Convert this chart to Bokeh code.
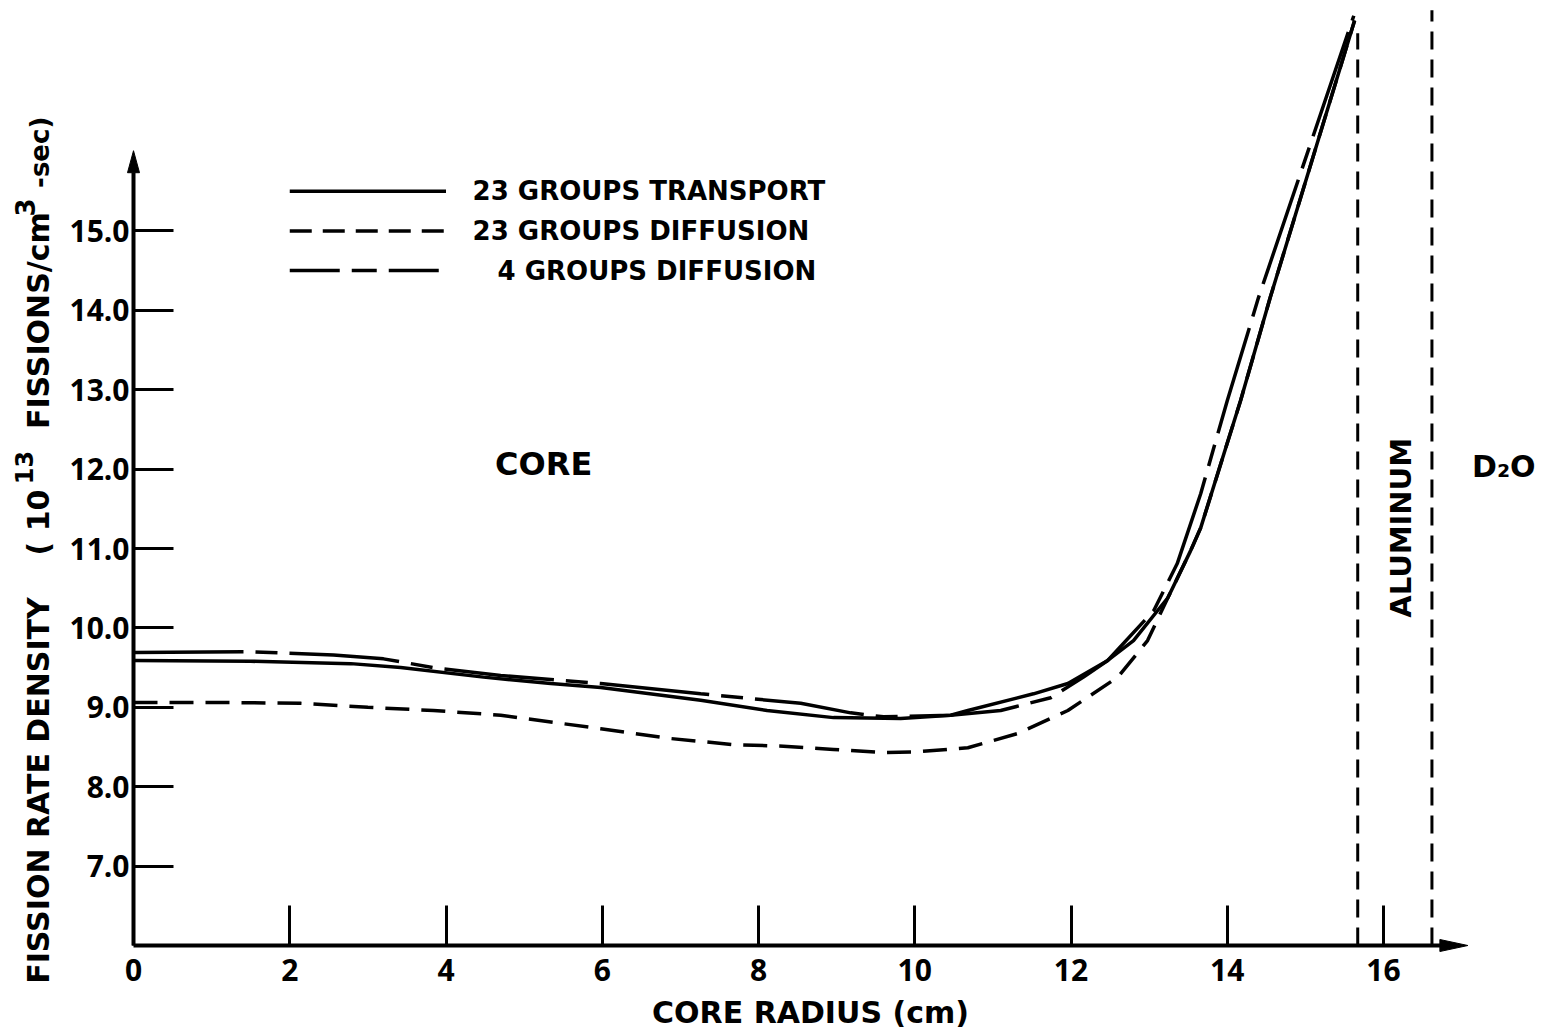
import numpy as np
from bokeh.plotting import figure
from bokeh.models import Range1d, FixedTicker, NumeralTickFormatter
from bokeh.core.properties import value
from bokeh.embed import file_html
from bokeh.resources import INLINE

# ---------------- data ----------------
radius_transport = [0.0, 1.50, 2.78, 3.42, 4.48, 5.34, 5.98, 7.26, 8.11, 8.96, 9.82,
                    10.46, 10.68, 11.52, 11.96, 12.47, 12.80, 13.24, 13.53, 13.66,
                    14.17, 14.55, 15.63]
fission_transport = [9.59, 9.58, 9.55, 9.50, 9.38, 9.30, 9.25, 9.09, 8.96, 8.87, 8.86,
                     8.90, 8.96, 9.17, 9.30, 9.59, 9.84, 10.38, 10.97, 11.26,
                     12.86, 14.16, 17.65]

radius_diff23 = [0.0, 1.28, 2.14, 3.00, 3.84, 4.70, 4.92, 5.98, 6.84, 7.68, 8.32, 8.96,
                 9.60, 10.04, 10.68, 11.32, 11.96, 12.60, 12.98, 13.24, 13.53, 13.66,
                 14.17, 14.55, 15.63]
fission_diff23 = [9.06, 9.06, 9.05, 9.00, 8.96, 8.90, 8.87, 8.73, 8.61, 8.53, 8.51, 8.47,
                  8.43, 8.44, 8.49, 8.67, 8.96, 9.38, 9.84, 10.38, 10.97, 11.26,
                  12.86, 14.16, 17.65]

radius_diff4 = [0.0, 1.50, 2.56, 3.20, 3.84, 4.70, 5.98, 7.26, 8.54, 9.18, 9.60, 10.46,
                11.10, 11.74, 12.16, 12.47, 13.06, 13.36, 13.66, 14.00, 14.40, 15.62]
fission_diff4 = [9.69, 9.70, 9.66, 9.61, 9.50, 9.40, 9.30, 9.17, 9.05, 8.93, 8.88, 8.90,
                 8.96, 9.12, 9.38, 9.59, 10.22, 10.81, 11.69, 12.86, 14.16, 17.71]

boundary_radius = [15.67, 16.62]
boundary_top = [17.49, 17.78]

x_ticks = [0, 2, 4, 6, 8, 10, 12, 14, 16]
y_ticks = [7, 8, 9, 10, 11, 12, 13, 14, 15]

series_names = ["23 GROUPS TRANSPORT", "23 GROUPS DIFFUSION", "4 GROUPS DIFFUSION"]

# ---------------- figure ----------------
PX_X = 78.125   # pixels per cm
PX_Y = 79.4     # pixels per unit
X_END = (1487 - 133) / PX_X
Y_END = 6 + 945 / PX_Y

WORD_FONT = "DejaVu Sans"
NUM_FONT = "Open Sans"

p = figure(width=1545, height=1036, output_backend="svg", toolbar_location=None,
           x_range=Range1d(0, X_END), y_range=Range1d(6, Y_END),
           min_border_left=133, min_border_right=1545 - 1487,
           min_border_top=0, min_border_bottom=91)
p.outline_line_color = None
p.grid.visible = False
p.background_fill_color = "white"
p.border_fill_color = "white"

# axes
for ax in (p.xaxis[0], p.yaxis[0]):
    ax.axis_line_width = 4
    ax.axis_line_color = "black"
    ax.major_tick_line_width = 3
    ax.major_tick_line_color = "black"
    ax.major_tick_in = 40
    ax.major_tick_out = 0
    ax.minor_tick_line_color = None
    ax.major_label_text_font = NUM_FONT
    ax.major_label_text_font_style = "bold"
    ax.major_label_text_font_size = "30px"
    ax.major_label_text_color = "black"

p.xaxis[0].ticker = FixedTicker(ticks=x_ticks)
p.xaxis[0].bounds = (0, 16.73)
p.xaxis[0].major_label_standoff = 13
p.xaxis[0].axis_label = "CORE RADIUS (cm)"
p.xaxis[0].axis_label_text_font = WORD_FONT
p.xaxis[0].axis_label_text_font_style = "bold"
p.xaxis[0].axis_label_text_font_size = "30px"
p.xaxis[0].axis_label_text_color = "black"
p.xaxis[0].axis_label_standoff = 11

p.yaxis[0].ticker = FixedTicker(ticks=y_ticks)
p.yaxis[0].formatter = NumeralTickFormatter(format="0.0")
p.yaxis[0].bounds = (6, 15.74)
p.yaxis[0].major_label_standoff = 4

# arrow heads on the axes
hx = 28 / PX_X
hy = 6 / PX_Y
ax_tip = 17.08
p.patch([ax_tip - hx, ax_tip, ax_tip - hx], [6 - hy, 6, 6 + hy],
        fill_color="black", line_color="black", level="overlay")
vx = 6 / PX_X
vy = 22 / PX_Y
ay_tip = 16.01
p.patch([0 - vx, 0, 0 + vx], [ay_tip - vy, ay_tip, ay_tip - vy],
        fill_color="black", line_color="black", level="overlay")

# curves
p.line(radius_transport, fission_transport, line_color="black", line_width=3.5)
p.line(radius_diff23, fission_diff23, line_color="black", line_width=3.5,
       line_dash="24 12")
p.line(radius_diff4, fission_diff4, line_color="black", line_width=3.5,
       line_dash="110 12 22 12")

# region boundaries
p.segment(x0=boundary_radius, y0=[6, 6], x1=boundary_radius, y1=boundary_top,
          line_color="black", line_width=3, line_dash="18 10")

# legend (hand-drawn style)
legend_y = [15.5, 15.0, 14.5]
legend_dash = ["solid", "22 11", "50 12 25 12"]
for yy, dd in zip(legend_y, legend_dash):
    p.line([2.0, 4.0], [yy, yy], line_color="black", line_width=3.5, line_dash=dd)
p.text(x=[4.34, 4.34, 4.66], y=legend_y, text=series_names,
       text_font=value(WORD_FONT), text_font_style="bold", text_font_size="26px",
       text_baseline="middle", text_align="left", text_color="black")

# region labels
p.text(x=[5.25], y=[12.06], text=["CORE"], text_font=value(WORD_FONT),
       text_font_style="bold", text_font_size="32px", text_baseline="middle",
       text_align="center", text_color="black")
p.text(x=[16.22], y=[11.26], text=["ALUMINUM"], text_font=value(WORD_FONT),
       text_font_style="bold", text_font_size="29px", text_baseline="middle",
       text_align="center", text_color="black", angle=np.pi / 2)
p.text(x=[17.54], y=[12.03], text=["D₂O"], text_font=value(WORD_FONT),
       text_font_style="bold", text_font_size="30px", text_baseline="middle",
       text_align="center", text_color="black", level="overlay")

# y-axis title built from pieces (with raised exponents)
ytitle_text = ["FISSION RATE DENSITY", "( 10", "13", "FISSIONS/cm", "3", "-sec)"]
ytitle_x = [-1.216, -1.216, -1.408, -1.216, -1.383, -1.191]
ytitle_y = [7.952, 11.327, 12.02, 13.87, 15.295, 15.99]
ytitle_size = ["30px", "30px", "24px", "30px", "26px", "26px"]
for txt, xx, yy, fs in zip(ytitle_text, ytitle_x, ytitle_y, ytitle_size):
    p.text(x=[xx], y=[yy], text=[txt], angle=np.pi / 2, text_font=value(WORD_FONT),
           text_font_style="bold", text_font_size=fs, text_align="center",
           text_baseline="alphabetic", text_color="black", level="overlay")

open("out.html", "w").write(file_html(p, INLINE))
